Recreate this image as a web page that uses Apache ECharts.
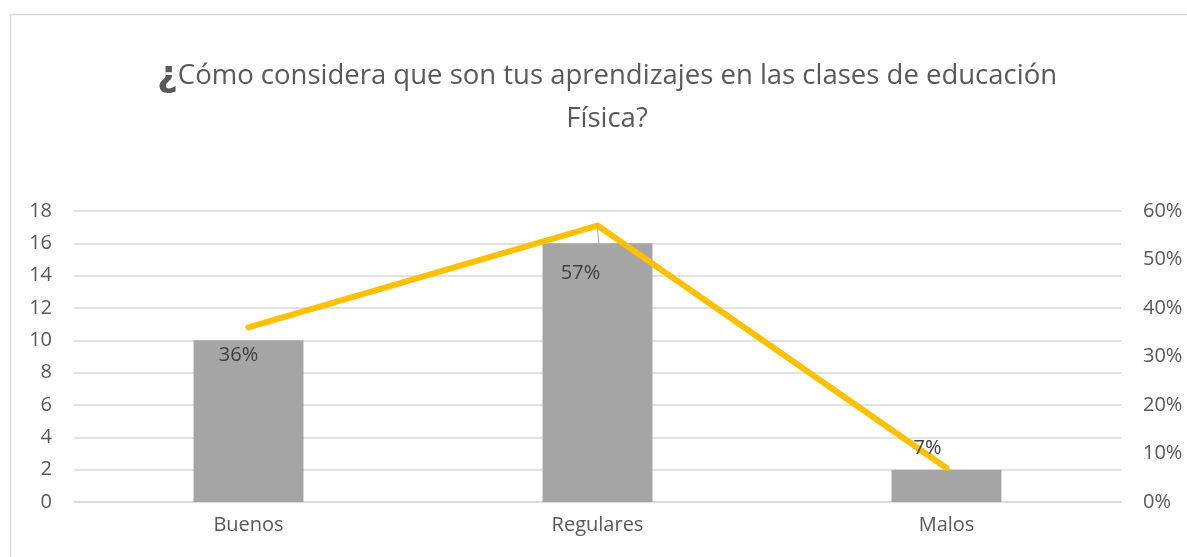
<!DOCTYPE html>
<html>
<head>
<meta charset="utf-8">
<script src="https://cdn.jsdelivr.net/npm/echarts@6/dist/echarts.min.js"></script>
<style>
  html, body { margin: 0; padding: 0; background: #fff; }
  #chart { width: 1187px; height: 557px; }
</style>
</head>
<body>
<div id="chart"></div>
<script>
// datos de la gráfica
var categorias = ["Buenos", "Regulares", "Malos"];
var cantidades = [10, 16, 2];
var porcentajes = [0.36, 0.57, 0.07];
var etiquetasPct = ["36%", "57%", "7%"];

var myEcharts = echarts.init(document.getElementById("chart"));

// posiciones de las etiquetas como en el original
var desplaz = [[-10, 28], [-17, 48], [-19, -20]];

var option = {
  animation: false,
  textStyle: { fontFamily: "Open Sans, Noto Sans, sans-serif" },
  title: {
    text: "{q|¿}Cómo considera que son tus aprendizajes en las clases de educación\nFísica?",
    left: 602,
    top: 50,
    textAlign: "center",
    textStyle: {
      fontSize: 27.5,
      fontWeight: "normal",
      color: "#595959",
      lineHeight: 43,
      fontFamily: "Open Sans, sans-serif",
      rich: {
        q: { fontSize: 36, fontWeight: "bold", color: "#595959", lineHeight: 43, fontFamily: "DejaVu Sans, sans-serif" }
      }
    }
  },
  graphic: [{
    type: "rect",
    shape: { x: 10.5, y: 14.5, width: 1200, height: 600 },
    style: { fill: "none", stroke: "#D9D9D9", lineWidth: 1.5 },
    silent: true
  }],
  grid: {
    left: 74,
    right: 66,
    top: 211,
    bottom: 55
  },
  xAxis: {
    type: "category",
    data: categorias,
    axisLine: { show: true, lineStyle: { color: "#D9D9D9", width: 1.5 } },
    axisTick: { show: false },
    axisLabel: { color: "#595959", fontSize: 20, margin: 13 }
  },
  yAxis: [{
    type: "value",
    min: 0,
    max: 18,
    interval: 2,
    axisLine: { show: false },
    axisTick: { show: false },
    splitLine: { lineStyle: { color: "#D9D9D9", width: 1.5 } },
    axisLabel: { color: "#595959", fontSize: 20, margin: 22 }
  }, {
    type: "value",
    min: 0,
    max: 0.6,
    interval: 0.1,
    axisLine: { show: false },
    axisTick: { show: false },
    splitLine: { show: false },
    axisLabel: {
      color: "#595959",
      fontSize: 20,
      margin: 22,
      formatter: function (v) { return Math.round(v * 100) + "%"; }
    }
  }],
  series: [{
    name: "Cantidad",
    type: "bar",
    data: cantidades,
    barWidth: "31.5%",
    itemStyle: { color: "#A5A5A5" }
  }, {
    name: "Porcentaje",
    type: "line",
    yAxisIndex: 1,
    symbol: "circle",
    symbolSize: 1,
    showSymbol: true,
    lineStyle: { color: "#FFC000", width: 6, cap: "round", join: "round" },
    itemStyle: { color: "rgba(255,192,0,0)" },
    data: porcentajes.map(function (v, i) {
      var d = {
        value: v,
        label: {
          show: true,
          position: "inside",
          offset: desplaz[i],
          formatter: etiquetasPct[i],
          color: "#404040",
          fontSize: 20
        }
      };
      if (i === 1) {
        d.labelLine = { show: true, lineStyle: { color: "#A5A5A5", width: 1 } };
      }
      return d;
    })
  }]
};

myEcharts.setOption(option);
</script>
</body>
</html>
